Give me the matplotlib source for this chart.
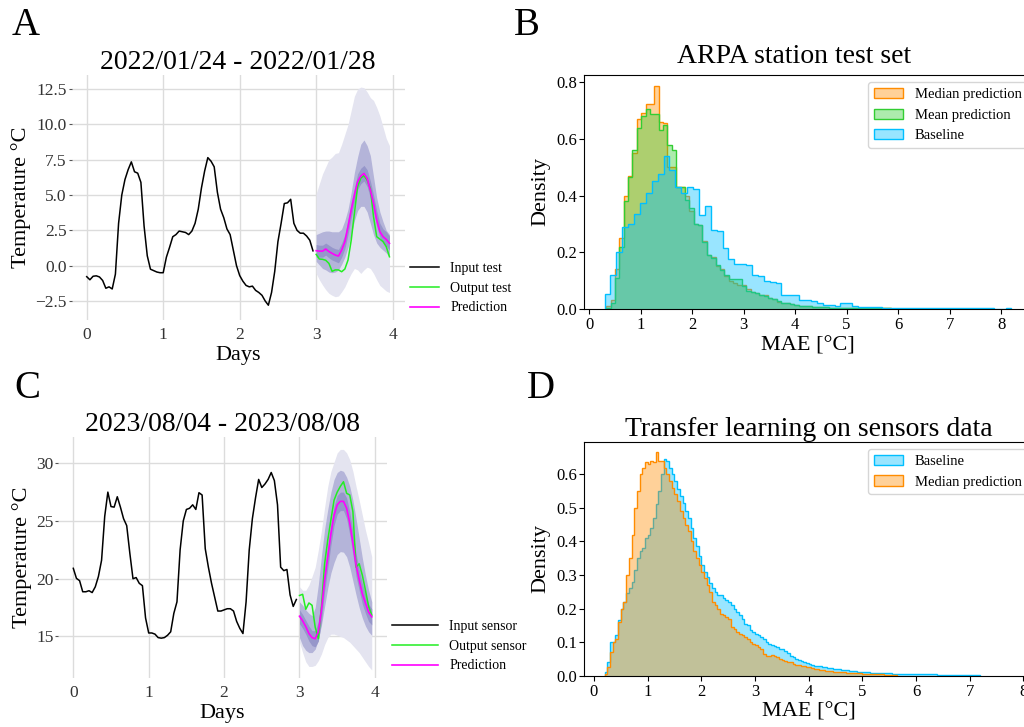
import numpy as np
import matplotlib.pyplot as plt
from matplotlib.colors import to_rgba

plt.rcParams['font.family'] = 'serif'
plt.rcParams['font.serif'] = ['Liberation Serif', 'DejaVu Serif']

# ---------------- panel A: 2022/01/24 - 2022/01/28 (hourly) ----------------
a_input = [-0.78, -1.0, -0.75, -0.72, -0.8, -1.05, -1.6, -1.5, -1.65, -0.6,
           3.0, 5.0, 6.1, 6.8, 7.35, 6.65, 6.55, 5.9, 2.8, 0.7,
           -0.25, -0.35, -0.45, -0.5, -0.5, 0.6, 1.3, 2.05, 2.2, 2.45,
           2.4, 2.35, 2.2, 2.45, 3.0, 4.0, 5.5, 6.7, 7.65, 7.4,
           7.0, 5.2, 4.0, 3.4, 2.6, 2.2, 1.1, 0.0, -0.7, -1.1,
           -1.4, -1.5, -1.45, -1.75, -1.9, -2.1, -2.5, -2.8, -1.9, -0.4,
           1.7, 3.0, 4.4, 4.45, 4.7, 3.0, 2.5, 2.3, 2.3, 2.1,
           1.8, 1.05]
a_output = [0.8, 0.47, 0.45, 0.38, 0.16, -0.4, -0.3, -0.3, -0.43, -0.24,
            0.4, 1.8, 3.7, 5.6, 6.2, 6.37, 6.06, 5.47, 3.46, 2.05,
            1.88, 1.7, 1.34, 0.63]
a_pred = [1.06, 1.03, 1.03, 1.18, 1.0, 0.87, 0.75, 0.68, 1.1, 1.7,
          2.76, 3.94, 5.0, 5.94, 6.34, 6.53, 6.18, 5.35, 4.4, 3.23,
          2.4, 2.05, 1.86, 1.58]
a_outer_hi = [5.1, 5.8, 6.5, 7.0, 7.5, 7.7, 7.95, 8.0, 8.6, 9.3,
              10.0, 11.0, 12.0, 12.5, 12.65, 12.6, 12.3, 11.9, 11.7, 11.2,
              10.6, 9.8, 9.0, 8.5]
a_outer_lo = [-0.55, -1.0, -1.37, -1.7, -1.96, -2.1, -2.2, -2.15, -1.85, -1.5,
              -1.0, -0.55, -0.2, -0.3, -0.55, -0.3, -0.1, -0.2, -0.55, -1.0,
              -1.4, -1.6, -1.8, -1.9]
a_mid_hi = [2.2, 2.3, 2.4, 2.45, 2.45, 2.4, 2.4, 2.4, 2.6, 3.2,
            4.0, 5.2, 6.6, 7.7, 8.6, 8.9, 8.5, 7.8, 6.3, 4.8,
            3.8, 3.1, 2.5, 2.2]
a_mid_lo = [0.3, 0.05, -0.2, -0.3, -0.45, -0.5, -0.45, -0.3, 0.1, 0.6,
            1.3, 2.2, 3.2, 3.9, 4.2, 4.2, 3.8, 3.0, 2.2, 1.6,
            1.3, 1.1, 0.9, 0.6]
a_in_hi = [1.5, 1.45, 1.45, 1.6, 1.45, 1.3, 1.2, 1.15, 1.6, 2.2,
           3.3, 4.5, 5.5, 6.5, 6.9, 7.1, 6.8, 6.0, 5.0, 3.9,
           3.0, 2.6, 2.4, 2.1]
a_in_lo = [0.6, 0.6, 0.6, 0.75, 0.55, 0.4, 0.3, 0.2, 0.6, 1.2,
           2.2, 3.4, 4.5, 5.4, 5.8, 6.0, 5.6, 4.8, 3.8, 2.8,
           2.0, 1.6, 1.4, 1.1]

# ---------------- panel C: 2023/08/04 - 2023/08/08 (hourly) ----------------
c_input = [20.9, 20.03, 19.83, 18.87, 18.87, 18.96, 18.8, 19.3, 20.2, 21.6,
           25.4, 27.5, 26.25, 26.2, 27.1, 26.2, 25.2, 24.6, 22.2, 20.0,
           20.1, 19.6, 19.4, 16.6, 15.3, 15.3, 15.2, 14.9, 14.85, 14.9,
           15.1, 15.4, 17.0, 18.0, 22.5, 25.0, 26.0, 26.1, 26.4, 26.0,
           27.45, 27.25, 22.6, 21.0, 19.6, 18.4, 17.2, 17.2, 17.3, 17.4,
           17.4, 17.2, 16.3, 15.7, 15.25, 18.0, 22.5, 25.2, 27.0, 28.6,
           27.9, 28.2, 28.6, 29.2, 28.5, 26.4, 21.0, 20.7, 20.8, 18.6,
           17.6, 18.2]
c_output = [18.55, 18.65, 17.35, 17.9, 17.7, 15.8, 14.8, 17.6, 21.3, 23.35,
            25.1, 26.8, 27.5, 28.0, 28.4, 27.4, 27.25, 25.8, 21.0, 21.3,
            20.3, 19.0, 17.6, 16.85]
c_pred = [16.75, 16.35, 15.85, 15.25, 14.9, 14.8, 15.4, 17.3, 19.9, 21.9,
          23.9, 25.5, 26.4, 26.7, 26.7, 26.1, 24.8, 23.1, 21.2, 19.9,
          18.7, 17.9, 17.1, 16.7]
c_outer_hi = [19.3, 19.0, 19.0, 19.45, 20.2, 21.0, 22.5, 24.2, 26.2, 28.0,
              29.3, 30.1, 30.9, 31.2, 31.2, 30.9, 30.3, 29.3, 28.0, 26.8,
              25.5, 24.2, 23.1, 21.9]
c_outer_lo = [14.5, 13.6, 12.8, 12.4, 12.4, 12.5, 12.9, 13.5, 14.3, 14.9,
              15.2, 15.2, 15.1, 15.0, 14.9, 14.7, 14.5, 14.2, 13.9, 13.6,
              13.2, 12.8, 12.4, 12.1]
c_mid_hi = [18.0, 17.7, 17.3, 17.0, 16.8, 17.5, 19.5, 22.0, 24.3, 26.0,
            27.5, 28.6, 29.2, 29.4, 29.3, 28.8, 28.0, 26.8, 25.2, 23.5,
            21.8, 20.3, 19.0, 18.0]
c_mid_lo = [14.9, 14.2, 13.8, 13.6, 13.6, 13.9, 14.7, 16.0, 17.6, 19.2,
            20.5, 21.4, 22.1, 22.35, 22.3, 21.9, 21.0, 19.8, 18.6, 17.5,
            16.6, 15.9, 15.4, 15.1]
c_in_hi = [17.3, 16.9, 16.4, 15.9, 15.5, 15.5, 16.3, 18.3, 20.9, 22.9,
           24.8, 26.3, 27.2, 27.5, 27.5, 27.0, 25.8, 24.1, 22.2, 20.8,
           19.6, 18.7, 17.8, 17.4]
c_in_lo = [16.1, 15.7, 15.2, 14.6, 14.2, 14.1, 14.6, 16.3, 18.9, 20.9,
           22.9, 24.6, 25.6, 25.9, 25.9, 25.2, 23.8, 22.1, 20.2, 19.0,
           17.8, 17.0, 16.3, 16.0]

# ---------------- panel B: ARPA station test set (density histograms) ----------------
b_med_start, b_med_width = 0.33, 0.085
b_median = [0.01, 0.03, 0.14, 0.25, 0.40, 0.47, 0.55, 0.67, 0.69, 0.725,
            0.725, 0.787, 0.66, 0.655, 0.50, 0.50, 0.43, 0.43, 0.40, 0.345,
            0.30, 0.295, 0.24, 0.19, 0.185, 0.15, 0.14, 0.115, 0.10, 0.09,
            0.085, 0.085, 0.07, 0.06, 0.055, 0.05, 0.048, 0.04, 0.035, 0.025,
            0.022, 0.02, 0.016, 0.015, 0.012, 0.01, 0.009, 0.008, 0.007, 0.006,
            0.006, 0.005, 0.005, 0.004, 0.004, 0.004, 0.003, 0.003, 0.003, 0.003,
            0.002, 0.002, 0.002, 0.002, 0.002, 0.001, 0.001, 0.001, 0.001, 0.001]
b_mean = [0.005, 0.02, 0.11, 0.22, 0.38, 0.467, 0.56, 0.64, 0.68, 0.706,
          0.687, 0.687, 0.63, 0.65, 0.58, 0.56, 0.43, 0.43, 0.385, 0.355,
          0.30, 0.297, 0.238, 0.19, 0.18, 0.155, 0.138, 0.12, 0.105, 0.106,
          0.106, 0.08, 0.065, 0.06, 0.055, 0.05, 0.045, 0.04, 0.035, 0.028,
          0.022, 0.02, 0.016, 0.014, 0.012, 0.01, 0.009, 0.008, 0.007, 0.006,
          0.006, 0.005, 0.005, 0.004, 0.004, 0.004, 0.003, 0.003, 0.003, 0.003,
          0.002, 0.002, 0.002, 0.002, 0.002, 0.001, 0.001, 0.001, 0.001, 0.001]
b_base_start, b_base_width = 0.30, 0.1145
b_baseline = [0.052, 0.12, 0.20, 0.29, 0.30, 0.335, 0.375, 0.41, 0.45, 0.475,
              0.54, 0.49, 0.43, 0.41, 0.43, 0.425, 0.33, 0.365, 0.28, 0.275,
              0.215, 0.175, 0.16, 0.16, 0.155, 0.12, 0.115, 0.097, 0.095, 0.09,
              0.05, 0.05, 0.048, 0.03, 0.03, 0.028, 0.022, 0.015, 0.015, 0.012,
              0.022, 0.02, 0.01, 0.008, 0.007, 0.006, 0.006, 0.005, 0.005, 0.004,
              0.004, 0.004, 0.003, 0.003, 0.003, 0.003, 0.003, 0.002, 0.002, 0.004,
              0.003, 0.002, 0.002, 0.002, 0.002, 0.002, 0.001, 0.001, 0.002]

# ---------------- panel D: transfer learning on sensors data ----------------
d_start, d_width = 0.20, 0.05
d_baseline = [0.01, 0.04, 0.10, 0.10, 0.12, 0.165, 0.20, 0.22, 0.245, 0.26,
              0.28, 0.315, 0.35, 0.37, 0.38, 0.41, 0.42, 0.44, 0.47, 0.51,
              0.55, 0.60, 0.645, 0.64, 0.62, 0.60, 0.58, 0.555, 0.535, 0.515,
              0.49, 0.47, 0.44, 0.41, 0.385, 0.355, 0.33, 0.31, 0.295, 0.275,
              0.26, 0.25, 0.24, 0.24, 0.23, 0.225, 0.22, 0.21, 0.20, 0.19,
              0.18, 0.17, 0.155, 0.15, 0.135, 0.13, 0.125, 0.12, 0.115, 0.11,
              0.10, 0.095, 0.09, 0.088, 0.085, 0.08, 0.078, 0.072, 0.068, 0.06,
              0.055, 0.05, 0.048, 0.045, 0.04, 0.037, 0.034, 0.032, 0.03, 0.03,
              0.028, 0.027, 0.025, 0.024, 0.022, 0.021, 0.02, 0.019, 0.018, 0.017,
              0.016, 0.015, 0.014, 0.013, 0.012, 0.012, 0.011, 0.01, 0.01, 0.009,
              0.009, 0.008, 0.008, 0.008, 0.007, 0.007, 0.007, 0.006, 0.006, 0.006,
              0.006, 0.005, 0.005, 0.005, 0.005, 0.005, 0.005, 0.004, 0.004, 0.004,
              0.004, 0.004, 0.004, 0.004, 0.003, 0.003, 0.003, 0.003, 0.003, 0.003,
              0.003, 0.002, 0.002, 0.002, 0.002, 0.002, 0.001, 0.001, 0.001, 0.001]
d_median = [0.005, 0.025, 0.07, 0.10, 0.11, 0.16, 0.20, 0.22, 0.30, 0.35,
            0.42, 0.50, 0.55, 0.60, 0.62, 0.635, 0.63, 0.64, 0.635, 0.665,
            0.64, 0.64, 0.62, 0.60, 0.58, 0.56, 0.54, 0.52, 0.49, 0.47,
            0.45, 0.43, 0.40, 0.37, 0.35, 0.33, 0.31, 0.29, 0.27, 0.25,
            0.22, 0.21, 0.20, 0.185, 0.18, 0.175, 0.17, 0.145, 0.14, 0.13,
            0.125, 0.12, 0.115, 0.11, 0.10, 0.095, 0.09, 0.085, 0.08, 0.065,
            0.06, 0.06, 0.062, 0.058, 0.055, 0.05, 0.048, 0.045, 0.042, 0.04,
            0.035, 0.033, 0.032, 0.03, 0.028, 0.026, 0.025, 0.022, 0.02, 0.02,
            0.018, 0.016, 0.015, 0.014, 0.013, 0.012, 0.012, 0.011, 0.01, 0.01,
            0.009, 0.009, 0.008, 0.008, 0.007, 0.007, 0.006, 0.006, 0.005, 0.005,
            0.005, 0.004, 0.004, 0.004, 0.003, 0.003, 0.003, 0.002, 0.002]

t_in = np.arange(72) / 24
t_out = 3 + np.arange(24) / 24

BAND_OUTER = '#e4e4f0'
BAND_MID = '#b4b4d9'
BAND_IN = '#9696ca'

fig = plt.figure(figsize=(10.24, 7.27), dpi=100)


def forecast_panel(rect, title, inp, out, pred, bands, labels, ylim, hlen, title_pad):
    ax = fig.add_axes(rect)
    for lo, hi, col in bands:
        ax.fill_between(t_out, lo, hi, color=col, lw=0)
    ax.plot(t_in, inp, color='black', lw=1.1, label=labels[0])
    ax.plot(t_out, out, color='#22ee22', lw=1.1, label=labels[1])
    ax.plot(t_out, pred, color='#ff00ff', lw=1.2, label=labels[2])
    ax.set_xlim(-0.198, 4.156)
    ax.set_ylim(*ylim)
    ax.set_xticks([0, 1, 2, 3, 4])
    ax.grid(True, color='#dcdcdc', lw=1.0)
    ax.set_axisbelow(True)
    for s in ax.spines.values():
        s.set_visible(False)
    ax.tick_params(axis='x', length=0, pad=5, labelsize=12.5, labelcolor='#333333')
    ax.tick_params(axis='y', length=2.5, width=0.8, color='#555555', pad=1,
                   labelsize=12.5, labelcolor='#333333')
    ax.set_title(title, fontsize=20, pad=title_pad)
    ax.set_xlabel('Days', fontsize=16, labelpad=2)
    ax.set_ylabel('Temperature °C', fontsize=16, labelpad=3)
    ax.legend(loc='lower left', bbox_to_anchor=(1.0, 0.0), borderaxespad=0,
              frameon=False, fontsize=10, handlelength=hlen)
    return ax


forecast_panel([0.0699, 0.5598, 0.3252, 0.337], '2022/01/24 - 2022/01/28',
               a_input, a_output, a_pred,
               [(a_outer_lo, a_outer_hi, BAND_OUTER), (a_mid_lo, a_mid_hi, BAND_MID),
                (a_in_lo, a_in_hi, BAND_IN)],
               ['Input test', 'Output test', 'Prediction'], (-3.85, 13.5), 2.1, 3.6)

forecast_panel([0.057, 0.0674, 0.3206, 0.3319], '2023/08/04 - 2023/08/08',
               c_input, c_output, c_pred,
               [(c_outer_lo, c_outer_hi, BAND_OUTER), (c_mid_lo, c_mid_hi, BAND_MID),
                (c_in_lo, c_in_hi, BAND_IN)],
               ['Input sensor', 'Output sensor', 'Prediction'], (11.4, 32.3), 3.3, 2.4)


def draw_hist(ax, start, width, heights, color, label):
    edges = start + width * np.arange(len(heights) + 1)
    ax.stairs(heights, edges, fill=True, facecolor=to_rgba(color, 0.4),
              edgecolor=color, linewidth=1.0, label=label)


def hist_style(ax, title, xlim, ylim, title_x, title_pad, top_px):
    ax.set_xlim(*xlim)
    ax.set_ylim(*ylim)
    ax.set_xticks(range(0, 9))
    ax.tick_params(axis='y', labelsize=12, pad=1.5)
    ax.tick_params(axis='x', labelsize=12, pad=2.5)
    ax.set_title(title, fontsize=20, x=title_x, pad=title_pad)
    ax.set_xlabel('MAE [°C]', fontsize=16, labelpad=2)
    ax.set_ylabel('Density', fontsize=16, labelpad=4)
    # legend box starts near x=868 px and runs past the right edge of the figure
    ax.legend(loc='upper left', bbox_to_anchor=(861 / 1024, 1 - top_px / 727),
              bbox_transform=fig.transFigure, fontsize=10.5)


ax_b = fig.add_axes([0.5703, 0.575, 0.4375, 0.3219])
draw_hist(ax_b, b_med_start, b_med_width, b_median, '#ff8c00', 'Median prediction')
draw_hist(ax_b, b_med_start, b_med_width, b_mean, '#32cd32', 'Mean prediction')
draw_hist(ax_b, b_base_start, b_base_width, b_baseline, '#00bfff', 'Baseline')
hist_style(ax_b, 'ARPA station test set', (-0.1, 8.6), (0, 0.826), 0.47, 8.6, 75)
ax_b.set_yticks([0.0, 0.2, 0.4, 0.6, 0.8])

ax_d = fig.add_axes([0.5703, 0.0706, 0.4395, 0.3219])
draw_hist(ax_d, d_start, d_width, d_baseline, '#00bfff', 'Baseline')
draw_hist(ax_d, d_start, d_width, d_median, '#ff8c00', 'Median prediction')
hist_style(ax_d, 'Transfer learning on sensors data', (-0.186, 8.2), (0, 0.697), 0.5, 4.1, 441.7)

for x, y, letter in [(12, 35, 'A'), (514, 35, 'B'), (14, 398, 'C'), (527, 398, 'D')]:
    fig.text(x / 1024, 1 - y / 727, letter, fontsize=28, va='baseline')

fig.savefig('out.png', dpi=100)
